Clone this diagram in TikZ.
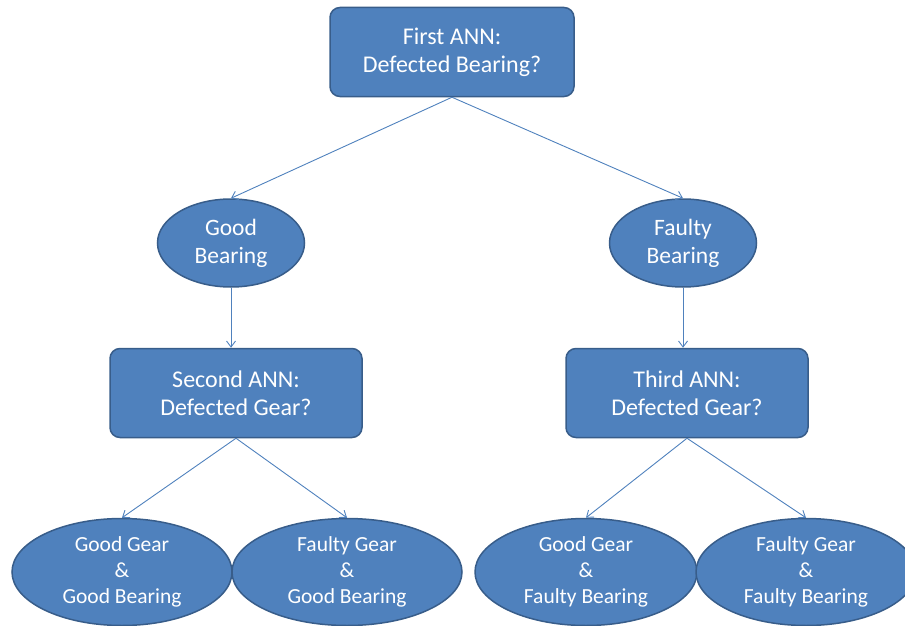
\documentclass[tikz,border=0pt]{standalone}
\usepackage{fontspec}
\setmainfont{Carlito}
\usetikzlibrary{shapes.geometric,arrows.meta}
\definecolor{boxfill}{HTML}{4F81BD}
\definecolor{boxline}{HTML}{385D8A}
\begin{document}
\begin{tikzpicture}[x=1pt,y=-1pt,
    annbox/.style={rectangle,rounded corners=10pt,fill=boxfill,draw=boxline,line width=1.5pt,
      text=white,align=center,inner sep=0pt,minimum height=89pt,
      font=\fontsize{24}{28}\selectfont},
    classell/.style={ellipse,fill=boxfill,draw=boxline,line width=1.5pt,
      text=white,align=center,inner sep=0pt,minimum width=147pt,minimum height=88pt,
      font=\fontsize{23.5}{28}\selectfont},
    leafell/.style={classell,minimum height=107pt,font=\fontsize{21.5}{26}\selectfont},
    link/.style={draw=boxfill,line width=0.9pt,-{Straight Barb[length=6pt,width=9pt]}}]
    \useasboundingbox (0,0) rectangle (905,626);
    % first level
    \node[annbox,minimum width=244pt] (first) at (452,52) {First ANN:\\Defected Bearing?};
    % bearing result
    \node[classell] (goodbear) at (231,243) {Good\\Bearing};
    \node[classell] (faultbear) at (683,243) {Faulty\\Bearing};
    % second level
    \node[annbox,minimum width=252pt] (second) at (236,393) {Second ANN:\\Defected Gear?};
    \node[annbox,minimum width=242pt] (third) at (687,393) {Third ANN:\\Defected Gear?};
    % leaves
    \node[leafell,minimum width=220pt] (gggb) at (122,572) {Good Gear\\\&\\Good Bearing};
    \node[leafell,minimum width=230pt] (fggb) at (347,572) {Faulty Gear\\\&\\Good Bearing};
    \node[leafell,minimum width=222pt] (ggfb) at (586,572) {Good Gear\\\&\\Faulty Bearing};
    \node[leafell,minimum width=220pt] (fgfb) at (806,572) {Faulty Gear\\\&\\Faulty Bearing};
    \draw[link] (first.south) -- (goodbear.north);
    \draw[link] (first.south) -- (faultbear.north);
    \draw[link] (goodbear.south) -- (goodbear.south |- second.north);
    \draw[link] (faultbear.south) -- (faultbear.south |- third.north);
    \draw[link] (second.south) -- (gggb.north);
    \draw[link] (second.south) -- (fggb.north);
    \draw[link] (third.south) -- (ggfb.north);
    \draw[link] (third.south) -- (fgfb.north);
\end{tikzpicture}
\end{document}
